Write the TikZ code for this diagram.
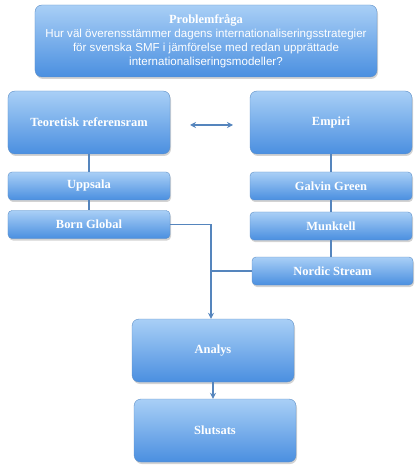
\documentclass[tikz,border=0pt]{standalone}
\usepackage{fontspec}
\setmainfont{Liberation Serif}
\newfontfamily\qfont{Liberation Sans}
\usetikzlibrary{shadows,arrows.meta}
\definecolor{boxtop}{HTML}{A9CFF6}
\definecolor{boxbot}{HTML}{4A8FE0}
\definecolor{boxline}{HTML}{5E8FC6}
\definecolor{conn}{HTML}{5585BD}
\newcommand{\qline}{\qfont\mdseries\fontsize{11.6}{14}\selectfont}
\tikzset{
  box/.style={rounded corners=7bp, draw=boxline, top color=boxtop, bottom color=boxbot,
    text=white, inner sep=0pt, minimum width=162bp, minimum height=63bp,
    drop shadow={shadow xshift=1bp, shadow yshift=-2bp, opacity=0.35},
    font=\bfseries\fontsize{12.5}{14}\selectfont},
  smallbox/.style={box, rounded corners=4bp, minimum height=28bp},
  link/.style={draw=conn, line width=1.6bp},
  arr/.style={link, -{Stealth[length=6bp,width=6bp]}},
}
\begin{document}
\begin{tikzpicture}[x=1bp,y=-1bp]
\useasboundingbox (0,0) rectangle (416,476);
\node[box, minimum width=342bp, minimum height=72bp, align=center] (prob) at (206,41)
  {Problemfråga\\
   \qline Hur väl överensstämmer dagens internationaliseringsstrategier\\
   \qline för svenska SMF i jämförelse med redan upprättade\\
   \qline internationaliseringsmodeller?};
\node[box] (teo) at (89,122.5){Teoretisk referensram};
\node[box] (emp) at (331,122.5){Empiri};
\node[smallbox] (upp) at (89,186){Uppsala};
\node[smallbox] (born) at (89,224.5){Born Global};
\node[smallbox] (galvin) at (331,186){Galvin Green};
\node[smallbox] (munk) at (331,226){Munktell};
\node[smallbox, minimum width=161bp] (nordic) at (332.5,271){Nordic Stream};
\node[box] (analys) at (213,350.5){Analys};
\node[box] (slut) at (215,430.5){Slutsats};
\coordinate (la) at (190,125);
\coordinate (ra) at (233,125);
\coordinate (join) at (211,224.5);
\draw[link, {Stealth[length=6bp,width=6bp]}-{Stealth[length=6bp,width=6bp]}] (la) -- (ra);
\draw[link] (teo) -- (upp);
\draw[link] (upp) -- (born);
\draw[link] (emp) -- (galvin);
\draw[link] (galvin) -- (munk);
\draw[link] (munk) -- (nordic.north -| munk);
\draw[arr] (born.east) -- (join) -- (join |- analys.north);
\draw[link] (nordic.west) -- (nordic.west -| join);
\draw[arr] (analys.south) -- (analys.south |- slut.north);
\end{tikzpicture}
\end{document}
